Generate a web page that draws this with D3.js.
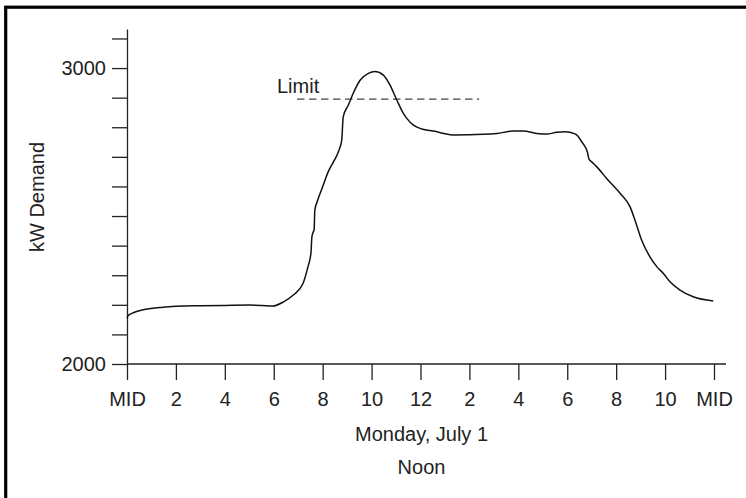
<!DOCTYPE html>
<html>
<head>
<meta charset="utf-8">
<script src="https://cdn.jsdelivr.net/npm/d3@7"></script>
<style>
  html, body { margin: 0; padding: 0; background: #fff; }
  svg text { font-family: "Liberation Sans", Arial, Helvetica, sans-serif; fill: #222; }
</style>
</head>
<body>
<svg id="chart" width="746" height="498"></svg>
<script>
// ---- data ----
const hours = [0, 0.05, 0.2, 0.46, 1.47, 2, 3, 4, 5, 5.5, 5.95, 6.4, 6.8, 7.2, 7.4, 7.52, 7.56, 7.62, 7.65, 7.68,
  7.8, 8.0, 8.23, 8.44, 8.67, 8.78, 8.84, 9.05, 9.25, 9.53, 9.87, 10.14, 10.48, 10.75, 11.03, 11.3, 11.44, 11.71,
  12.05, 12.52, 13.41, 14.57, 15.12, 15.79, 16.2, 16.75, 17.16, 17.57, 17.91, 18.11, 18.39, 18.59, 18.73, 18.82,
  18.89, 19.0, 19.2, 19.61, 20.16, 20.57, 20.77, 21.04, 21.38, 21.66, 21.93, 22.2, 22.61, 23.15, 23.97];
const demand = [2155, 2164, 2171, 2179, 2192, 2195, 2197, 2198, 2199, 2198, 2196, 2210, 2233, 2273, 2329, 2374, 2430, 2447, 2453, 2520,
  2554, 2599, 2650, 2683, 2723, 2757, 2835, 2875, 2915, 2959, 2982, 2988, 2976, 2943, 2892, 2847, 2830, 2807,
  2794, 2787, 2774, 2776, 2779, 2787, 2787, 2779, 2777, 2783, 2785, 2783, 2774, 2751, 2734, 2717,
  2692, 2683, 2667, 2627, 2577, 2531, 2486, 2419, 2362, 2329, 2306, 2278, 2250, 2227, 2213];
const xTickValues = [0, 2, 4, 6, 8, 10, 12, 14, 16, 18, 20, 22, 24];
const xTickLabels = ["MID", "2", "4", "6", "8", "10", "12", "2", "4", "6", "8", "10", "MID"];
const yTickValues = [2000, 2100, 2200, 2300, 2400, 2500, 2600, 2700, 2800, 2900, 3000, 3100];
const yTickLabels = ["2000", "", "", "", "", "", "", "", "", "", "3000", ""];
const limitValue = 2895;
const limitSpan = [6.95, 14.4];
const limitLabel = "Limit";
const yTitle = "kW Demand";
const xTitle = "Monday, July 1";
const xSubTitle = "Noon";

// ---- drawing ----
const svg = d3.select("#chart");
const fs = 20;

// frame
svg.append("rect").attr("x", 5.7).attr("y", 7.2).attr("width", 800).attr("height", 600)
  .attr("fill", "none").attr("stroke", "#000").attr("stroke-width", 3.2);

const x = d3.scaleLinear().domain([0, 24]).range([127, 714]);
const y = d3.scaleLinear().domain([2000, 3132]).range([364, 29]);

// y axis
const yAxis = svg.append("g").attr("transform", "translate(127,0)")
  .call(d3.axisLeft(y).tickValues(yTickValues)
    .tickFormat((d, i) => yTickLabels[i]).tickSize(15).tickSizeOuter(0).tickPadding(6));
yAxis.selectAll("path, line").attr("stroke", "#222").attr("stroke-width", 1.3);
yAxis.selectAll("text").attr("font-size", fs).attr("fill", "#222")
  .style("font-family", "'Liberation Sans', Arial, sans-serif");

// x axis
const xAxis = svg.append("g").attr("transform", "translate(0,364)")
  .call(d3.axisBottom(x).tickValues(xTickValues)
    .tickFormat((d, i) => xTickLabels[i]).tickSize(16).tickSizeOuter(0).tickPadding(12));
xAxis.select(".domain").remove();
xAxis.append("line").attr("x1", x(0)).attr("x2", x(24) + 12).attr("y1", 0).attr("y2", 0)
  .attr("stroke", "#222").attr("stroke-width", 1.3);
xAxis.selectAll("line").attr("stroke", "#222").attr("stroke-width", 1.3);
xAxis.selectAll("text").attr("font-size", fs).attr("fill", "#222")
  .style("font-family", "'Liberation Sans', Arial, sans-serif");

// titles
const xc = (x(0) + x(24)) / 2 + 1;
svg.append("text").attr("x", xc).attr("y", 441).attr("text-anchor", "middle")
  .attr("font-size", fs).text(xTitle);
svg.append("text").attr("x", xc).attr("y", 474).attr("text-anchor", "middle")
  .attr("font-size", fs).text(xSubTitle);
svg.append("text").attr("transform", "translate(44,197) rotate(-90)").attr("text-anchor", "middle")
  .attr("font-size", fs).text(yTitle);

// limit line
svg.append("line").attr("x1", x(limitSpan[0])).attr("x2", x(limitSpan[1]))
  .attr("y1", y(limitValue)).attr("y2", y(limitValue))
  .attr("stroke", "#444").attr("stroke-width", 1.4).attr("stroke-dasharray", "7.5,4.5");
svg.append("text").attr("x", x(limitSpan[0]) - 20).attr("y", y(limitValue) - 6)
  .attr("font-size", fs).text(limitLabel);

// demand curve
const pts = hours.map((h, i) => [h, demand[i]]);
const line = d3.line().x(d => x(d[0])).y(d => y(d[1])).curve(d3.curveMonotoneX);
svg.append("path").datum(pts).attr("d", line)
  .attr("fill", "none").attr("stroke", "#111").attr("stroke-width", 1.5);
</script>
</body>
</html>
